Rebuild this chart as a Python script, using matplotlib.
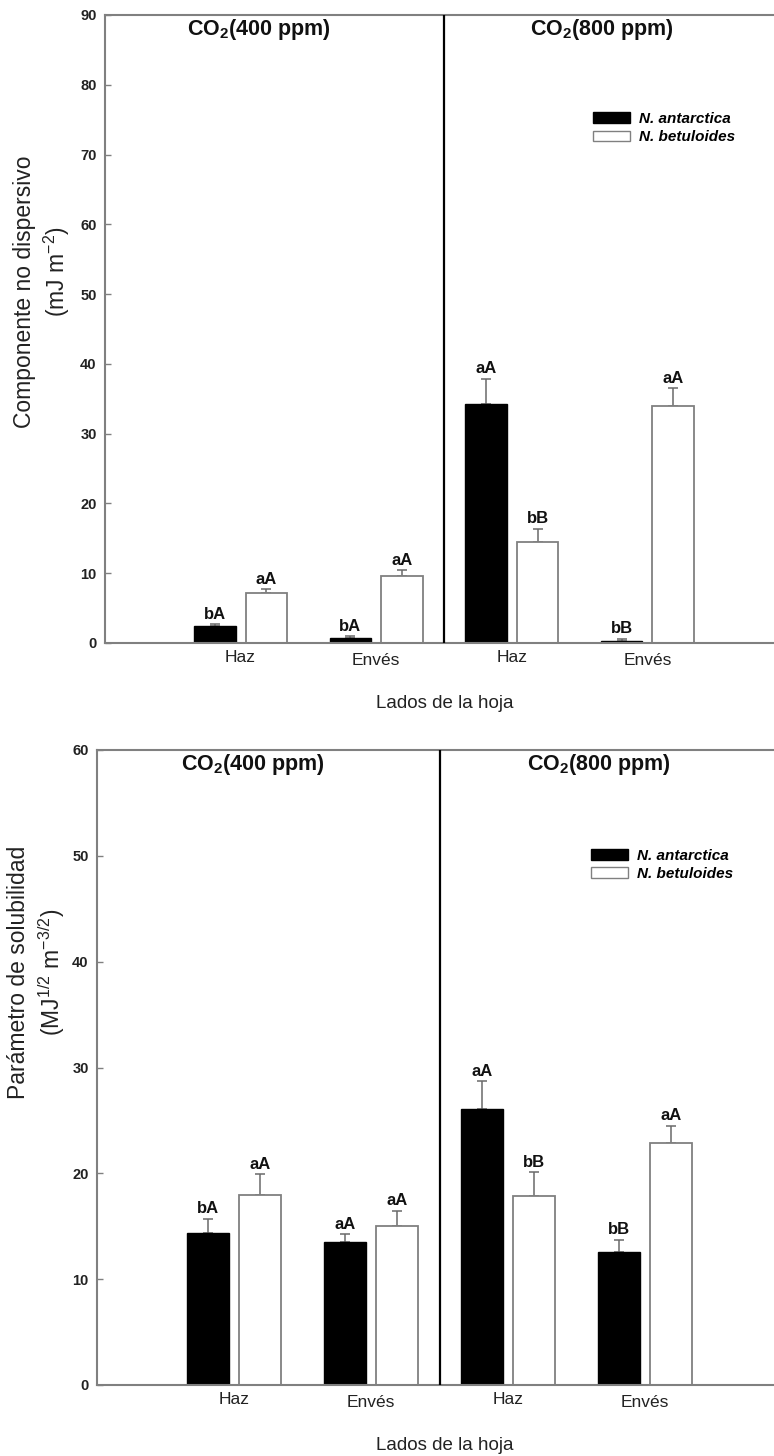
import matplotlib
matplotlib.use('Agg')
import matplotlib.pyplot as plt
from matplotlib.patches import Patch
import numpy as np

plt.rcParams['font.family'] = ['Liberation Sans', 'DejaVu Sans']
plt.rcParams['mathtext.fontset'] = 'custom'
plt.rcParams['mathtext.rm'] = 'Liberation Sans'
plt.rcParams['mathtext.it'] = 'Liberation Sans:italic'
plt.rcParams['mathtext.bf'] = 'Liberation Sans:bold'

# ---------------- data ----------------
sides = ['Haz', 'Envés', 'Haz', 'Envés']
species = ['N. antarctica', 'N. betuloides']
co2_titles = [r'CO$_\mathbf{2}$(400 ppm)', r'CO$_\mathbf{2}$(800 ppm)']
xlabel_text = 'Lados de la hoja'

disp_antarctica = [2.4, 0.75, 34.3, 0.35]
disp_antarctica_err = [0.3, 0.2, 3.6, 0.25]
disp_betuloides = [7.1, 9.6, 14.5, 34.0]
disp_betuloides_err = [0.6, 0.8, 1.9, 2.5]
disp_letters_ant = ['bA', 'bA', 'aA', 'bB']
disp_letters_bet = ['aA', 'aA', 'bB', 'aA']
disp_yticks = [0, 10, 20, 30, 40, 50, 60, 70, 80, 90]

sol_antarctica = [14.4, 13.5, 26.1, 12.6]
sol_antarctica_err = [1.3, 0.75, 2.6, 1.1]
sol_betuloides = [18.0, 15.0, 17.9, 22.9]
sol_betuloides_err = [1.9, 1.45, 2.2, 1.6]
sol_letters_ant = ['bA', 'aA', 'aA', 'bB']
sol_letters_bet = ['aA', 'aA', 'bB', 'aA']
sol_yticks = [0, 10, 20, 30, 40, 50, 60]

# ---------------- figure ----------------
W, H = 774, 1456
fig = plt.figure(figsize=(W / 100, H / 100), dpi=100)


def fx(px):
    return px / W


def fy(py):
    return 1 - py / H


GRAY = '#808080'


def panel(rect, ant, ant_err, bet, bet_err, let_ant, let_bet, yticks, leg_anchor):
    ax = fig.add_axes(rect)
    x = np.arange(len(sides))
    off, bw = 0.19, 0.305
    zeros = [0] * len(sides)
    ax.errorbar(x - off, ant, yerr=[zeros, ant_err], fmt='none', ecolor='#6a6a6a',
                elinewidth=1.1, capsize=3.6, capthick=1.1, zorder=1)
    ax.errorbar(x + off, bet, yerr=[zeros, bet_err], fmt='none', ecolor='#6a6a6a',
                elinewidth=1.1, capsize=3.6, capthick=1.1, zorder=1)
    ax.bar(x - off, ant, width=bw, color='black', edgecolor='black', linewidth=1, zorder=2)
    ax.bar(x + off, bet, width=bw, color='white', edgecolor=GRAY, linewidth=1.3, zorder=2)
    for xi, v, e, t in zip(x - off, ant, ant_err, let_ant):
        ax.annotate(t, (xi, v + e), xytext=(0, 4), textcoords='offset points',
                    ha='center', va='baseline', fontsize=12, fontweight='bold', color='#111')
    for xi, v, e, t in zip(x + off, bet, bet_err, let_bet):
        ax.annotate(t, (xi, v + e), xytext=(0, 4), textcoords='offset points',
                    ha='center', va='baseline', fontsize=12, fontweight='bold', color='#111')
    ax.axvline(1.5, color='black', lw=1.6, zorder=3)
    ax.set_xlim(-1, 4)
    ax.set_ylim(yticks[0], yticks[-1])
    ax.set_xticks(x)
    ax.set_xticklabels(sides)
    ax.set_yticks(yticks)
    ax.tick_params(axis='x', length=0, pad=5, labelsize=12.5, labelcolor='#222')
    ax.tick_params(axis='y', direction='in', length=4, width=1, color=GRAY,
                   labelsize=10.5, pad=6, labelcolor='#222')
    for lab in ax.get_yticklabels():
        lab.set_fontweight('bold')
    for lab, s in zip(ax.get_xticklabels(), sides):
        if 'é' in s:
            lab.set_y(-0.005)
    for s in ['left', 'bottom', 'top']:
        ax.spines[s].set_color(GRAY)
        ax.spines[s].set_linewidth(1.5)
    ax.spines['right'].set_visible(False)
    for xt, t in zip([0.227, 0.733], co2_titles):
        ax.text(xt, 0.968, t, transform=ax.transAxes, ha='center', va='baseline',
                fontsize=15.5, fontweight='bold', color='#111')
    handles = [Patch(facecolor='black', edgecolor='black'),
               Patch(facecolor='white', edgecolor=GRAY)]
    F = 11 * 100 / 72
    ax.legend(handles, species, loc='upper left', bbox_to_anchor=leg_anchor,
              frameon=False, borderpad=0, borderaxespad=0,
              handlelength=37 / F, handleheight=0.72, handletextpad=9 / F,
              labelspacing=0.3,
              prop={'style': 'italic', 'weight': 'bold', 'size': 11})
    return ax


ax1 = panel([fx(105), fy(643), fx(678), 628 / H],
            disp_antarctica, disp_antarctica_err, disp_betuloides, disp_betuloides_err,
            disp_letters_ant, disp_letters_bet, disp_yticks, (0.7198, 0.8460))
ax2 = panel([fx(97), fy(1385), fx(685), 635 / H],
            sol_antarctica, sol_antarctica_err, sol_betuloides, sol_betuloides_err,
            sol_letters_ant, sol_letters_bet, sol_yticks, (0.7212, 0.8446))

# axis labels
fig.text(fx(445), fy(703), xlabel_text, ha='center', va='center', fontsize=13.5, color='#222')
fig.text(fx(445), fy(1445), xlabel_text, ha='center', va='center', fontsize=13.5, color='#222')

fig.text(fx(25), fy(292), 'Componente no dispersivo', rotation=90, ha='center',
         va='center', fontsize=16.5, color='#222')
fig.text(fx(57), fy(272), r'(mJ m$^{-2}$)', rotation=90, ha='center',
         va='center', fontsize=16.5, color='#222')
fig.text(fx(19), fy(972), 'Parámetro de solubilidad', rotation=90, ha='center',
         va='center', fontsize=16.5, color='#222')
fig.text(fx(52), fy(972), r'(MJ$^{1/2}$ m$^{-3/2}$)', rotation=90, ha='center',
         va='center', fontsize=16.5, color='#222')

fig.savefig('out.png', dpi=100)
